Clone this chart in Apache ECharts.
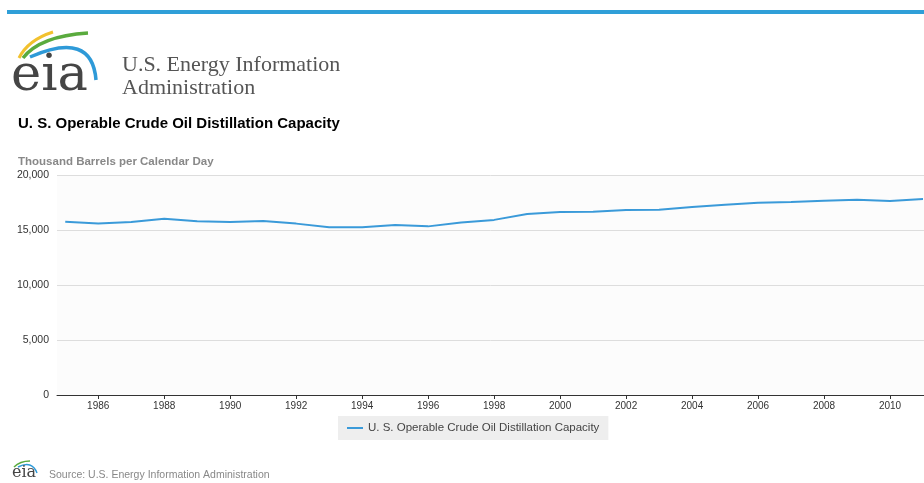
<!DOCTYPE html>
<html>
<head>
<meta charset="utf-8">
<script src="https://cdn.jsdelivr.net/npm/echarts@6/dist/echarts.min.js"></script>
<style>
    html, body { margin: 0; padding: 0; background: #ffffff; }
    #chart { width: 924px; height: 483px; }
</style>
</head>
<body>
<div id="chart"></div>
<script>
const years = [
    1985, 1986, 1987, 1988, 1989, 1990, 1991, 1992, 1993, 1994,
    1995, 1996, 1997, 1998, 1999, 2000, 2001, 2002, 2003, 2004,
    2005, 2006, 2007, 2008, 2009, 2010, 2011
];

const capacity = [
    15760, 15580, 15720, 16030, 15790, 15730, 15810, 15580, 15240, 15240,
    15450, 15330, 15690, 15920, 16450, 16630, 16670, 16810, 16850, 17090,
    17300, 17480, 17540, 17660, 17760, 17640, 17820
];

const yearTicks = [1986, 1988, 1990, 1992, 1994, 1996, 1998, 2000, 2002, 2004, 2006, 2008, 2010];

const seriesName = "U. S. Operable Crude Oil Distillation Capacity";
const FONT = "Liberation Sans, Arial, sans-serif";
const SERIF = "Liberation Serif, Times New Roman, serif";
const LOGO = "DejaVu Serif, serif";

const chart = echarts.init(document.getElementById("chart"));

chart.setOption({
    animation: false,
    backgroundColor: "#ffffff",

    title: {
        text: seriesName,
        left: 13,
        top: 111,
        textStyle: {
            fontFamily: FONT,
            fontSize: 15,
            fontWeight: "bold",
            color: "#000000"
        }
    },

    graphic: [
        // top bar
        { type: "rect", shape: { x: 7, y: 10, width: 917, height: 4 }, style: { fill: "#2f9fd8" } },

        // logo swooshes
        { type: "bezierCurve", shape: { x1: 19, y1: 58, cpx1: 28, cpy1: 40, x2: 53, y2: 32 },
          style: { stroke: "#f2c12e", lineWidth: 3, fill: null } },
        { type: "bezierCurve", shape: { x1: 23, y1: 58, cpx1: 40, cpy1: 36, x2: 88, y2: 33 },
          style: { stroke: "#5aab3e", lineWidth: 3.5, fill: null } },
        { type: "bezierCurve", shape: { x1: 30, y1: 57, cpx1: 92, cpy1: 30, x2: 96, y2: 80 },
          style: { stroke: "#2e9ad8", lineWidth: 3.5, fill: null } },

        // logo letters
        { type: "text", left: 11, top: 51, style: { text: "eia", font: "51px " + LOGO, fill: "#454545" } },

        { type: "text", left: 122, top: 54, style: { text: "U.S. Energy Information", font: "22px " + SERIF, fill: "#555555" } },
        { type: "text", left: 122, top: 77, style: { text: "Administration", font: "22px " + SERIF, fill: "#555555" } },

        // unit label
        { type: "text", left: 18, top: 156, style: { text: "Thousand Barrels per Calendar Day", font: "bold 11.5px " + FONT, fill: "#888888" } },

        // footer logo + source
        { type: "bezierCurve", shape: { x1: 14, y1: 467, cpx1: 20, cpy1: 461, x2: 30, y2: 461 },
          style: { stroke: "#5aab3e", lineWidth: 1.5, fill: null } },
        { type: "bezierCurve", shape: { x1: 18, y1: 467, cpx1: 32, cpy1: 460, x2: 37, y2: 473 },
          style: { stroke: "#2e9ad8", lineWidth: 1.5, fill: null } },
        { type: "text", left: 12, top: 465, style: { text: "eia", font: "16px " + LOGO, fill: "#454545" } },
        { type: "text", left: 49, top: 470, style: { text: "Source: U.S. Energy Information Administration", font: "10.5px " + FONT, fill: "#888888" } }
    ],

    legend: {
        left: 338,
        top: 416,
        data: [seriesName],
        icon: "rect",
        itemWidth: 16,
        itemHeight: 2,
        itemGap: 6,
        padding: [6, 9, 6, 9],
        backgroundColor: "#eeeeee",
        textStyle: {
            fontFamily: FONT,
            fontSize: 11.5,
            color: "#444444"
        }
    },

    grid: {
        left: 57,
        right: 0,
        top: 175,
        bottom: 88,
        show: true,
        backgroundColor: "#fcfcfc",
        borderWidth: 0
    },

    xAxis: {
        type: "value",
        min: 1984.75,
        max: 2011.03,
        splitLine: { show: false },
        axisLine: {
            show: true,
            onZero: false,
            lineStyle: { color: "#333333", width: 1 }
        },
        axisTick: {
            show: true,
            length: 4,
            customValues: yearTicks,
            lineStyle: { color: "#333333" }
        },
        axisLabel: {
            customValues: yearTicks,
            margin: 6,
            fontFamily: FONT,
            fontSize: 10,
            color: "#333333",
            formatter: v => String(v)
        }
    },

    yAxis: {
        type: "value",
        min: 0,
        max: 20000,
        interval: 5000,
        axisLine: { show: false },
        axisTick: { show: false },
        splitLine: {
            lineStyle: { color: "#dddddd", width: 1 }
        },
        axisLabel: {
            margin: 8,
            fontFamily: FONT,
            fontSize: 10.5,
            color: "#333333",
            formatter: v => v.toLocaleString("en-US")
        }
    },

    series: [
        {
            name: seriesName,
            type: "line",
            showSymbol: false,
            smooth: false,
            data: years.map((y, i) => [y, capacity[i]]),
            lineStyle: { color: "#3a9ad9", width: 2 },
            itemStyle: { color: "#3a9ad9" }
        }
    ]
});
</script>
</body>
</html>
